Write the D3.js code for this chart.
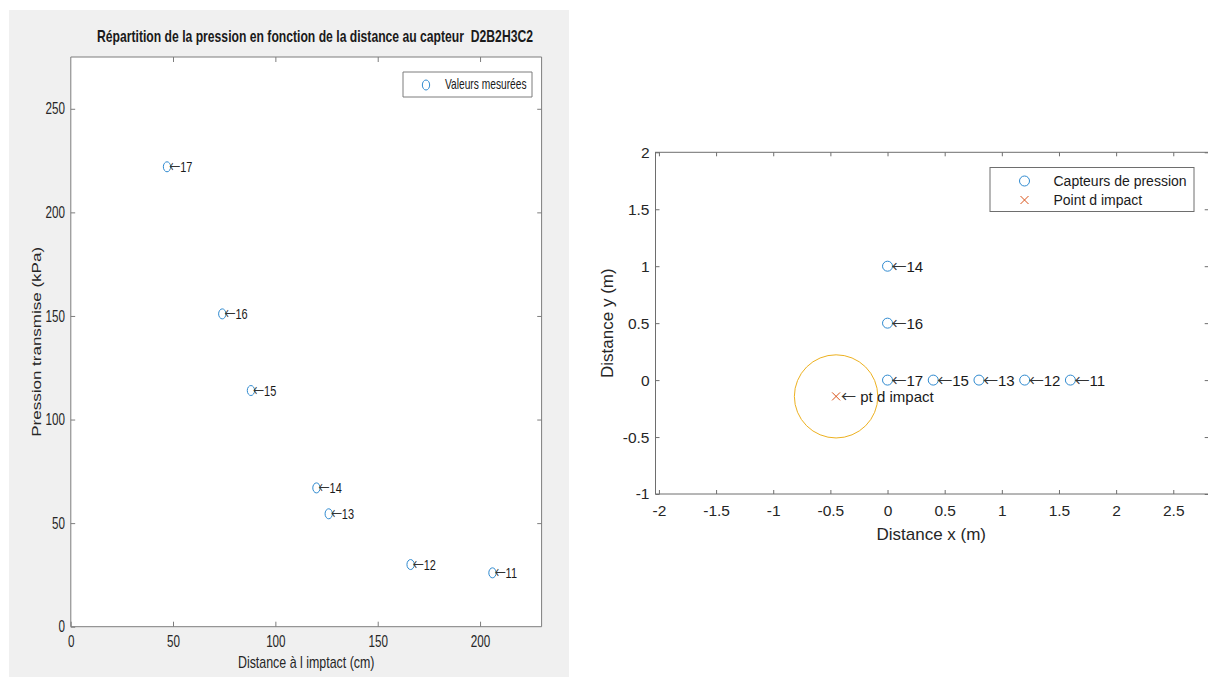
<!DOCTYPE html>
<html>
<head>
<meta charset="utf-8">
<script src="https://cdn.jsdelivr.net/npm/d3@7"></script>
<style>
  html, body { margin: 0; padding: 0; background: #ffffff; }
  svg { display: block; font-family: "Liberation Sans", Arial, Helvetica, sans-serif; }
</style>
</head>
<body>
<script>
// ---------- DATA ----------
// Left chart: pressure vs. distance from impact
const leftLabels = ["17", "16", "15", "14", "13", "12", "11"];
const leftDistance = [47, 74, 88, 120, 126, 166, 206];      // cm
const leftPressure = [222, 151, 114, 67, 54.5, 30, 26];     // kPa
const leftXTicks = [0, 50, 100, 150, 200];
const leftYTicks = [0, 50, 100, 150, 200, 250];

// Right chart: sensor layout
const sensorLabels = ["14", "16", "17", "15", "13", "12", "11"];
const sensorX = [0, 0, 0, 0.4, 0.8, 1.2, 1.6];
const sensorY = [1, 0.5, 0, 0, 0, 0, 0];
const impactX = [-0.45];
const impactY = [-0.143];
const impactRadius = [0.365];
const rightXTicks = [-2, -1.5, -1, -0.5, 0, 0.5, 1, 1.5, 2, 2.5];
const rightYTicks = [-1, -0.5, 0, 0.5, 1, 1.5, 2];

// ---------- SETUP ----------
const W = 1208, H = 677;
const svg = d3.select("body").append("svg").attr("width", W).attr("height", H);
const BLUE = "#2f8ad0", ORANGE = "#D95319", YELLOW = "#EDB120";
const AX = "#7d7d7d", TXT = "#262626";
const FONT = '"Liberation Sans", Arial, sans-serif';

function arrowLabel(sel, fs, textFn, spaced) {
  sel.append("tspan").style("font-family", '"Noto Sans CJK JP", "Noto Sans CJK SC", "DejaVu Sans", sans-serif')
    .attr("font-size", fs).attr("fill", "#333333").text("\u2190");
  sel.append("tspan").style("white-space", "pre").text(d => (spaced ? " " : "") + textFn(d));
}

// ================= LEFT CHART (horizontally squeezed figure) =================
const SX = 0.73;
svg.append("rect").attr("x", 9).attr("y", 10).attr("width", 560).attr("height", 667).attr("fill", "#f0f0f0");

const L = svg.append("g").attr("transform", `scale(${SX},1)`);
const lx = d3.scaleLinear().domain([0, 230]).range([70.8 / SX, 541.6 / SX]);
const ly = d3.scaleLinear().domain([0, 275]).range([626.7, 57]);
const [lx0, lx1] = lx.range(), [ly0, ly1] = ly.range();

L.append("rect").attr("x", lx0).attr("y", ly1).attr("width", lx1 - lx0).attr("height", ly0 - ly1)
  .attr("fill", "#ffffff");

function styleAxis(g, fs) {
  g.select(".domain").remove();
  g.selectAll("line").attr("stroke", AX).attr("vector-effect", "non-scaling-stroke");
  g.selectAll("text").attr("fill", TXT).style("font-size", fs + "px").style("font-family", FONT);
}

L.append("g").attr("transform", `translate(0,${ly0})`)
  .call(d3.axisBottom(lx).tickValues(leftXTicks).tickSizeInner(-5).tickSizeOuter(0).tickPadding(9).tickFormat(d3.format("d")))
  .call(g => styleAxis(g, 16));
L.append("g").attr("transform", `translate(0,${ly1})`)
  .call(d3.axisTop(lx).tickValues(leftXTicks.slice(1)).tickSizeInner(-5).tickSizeOuter(0).tickFormat(""))
  .call(g => styleAxis(g, 16));
L.append("g").attr("transform", `translate(${lx0},0)`)
  .call(d3.axisLeft(ly).tickValues(leftYTicks).tickSizeInner(-6).tickSizeOuter(0).tickPadding(8).tickFormat(d3.format("d")))
  .call(g => styleAxis(g, 16));
L.append("g").attr("transform", `translate(${lx1},0)`)
  .call(d3.axisRight(ly).tickValues(leftYTicks.slice(1)).tickSizeInner(-6).tickSizeOuter(0).tickFormat(""))
  .call(g => styleAxis(g, 16));

L.append("rect").attr("x", lx0).attr("y", ly1).attr("width", lx1 - lx0).attr("height", ly0 - ly1)
  .attr("fill", "none").attr("stroke", AX).attr("vector-effect", "non-scaling-stroke");

// title
L.append("text").attr("x", 315 / SX).attr("y", 42).attr("text-anchor", "middle")
  .attr("font-weight", "bold").attr("font-size", 16).attr("fill", "#1a1a1a")
  .attr("textLength", 436 / SX).attr("lengthAdjust", "spacingAndGlyphs")
  .style("white-space", "pre")
  .text("Répartition de la pression en fonction de la distance au capteur  D2B2H3C2");

// axis labels
L.append("text").attr("x", (lx0 + lx1) / 2).attr("y", 668).attr("text-anchor", "middle")
  .attr("font-size", 17).attr("fill", TXT).text("Distance à l imptact (cm)");
L.append("text").attr("transform", `translate(${37 / SX},${(ly0 + ly1) / 2}) rotate(-90)`)
  .attr("text-anchor", "middle").attr("dy", "0.35em")
  .attr("font-size", 17).attr("fill", TXT).text("Pression transmise (kPa)");

// points
const leftPts = leftLabels.map((lab, i) => ({ lab, x: leftDistance[i], y: leftPressure[i] }));
L.selectAll("circle.pt").data(leftPts).join("circle").attr("class", "pt")
  .attr("cx", d => lx(d.x)).attr("cy", d => ly(d.y)).attr("r", 5)
  .attr("fill", "none").attr("stroke", BLUE).attr("vector-effect", "non-scaling-stroke");
L.selectAll("text.pl").data(leftPts).join("text").attr("class", "pl")
  .attr("x", d => lx(d.x) + 3).attr("y", d => ly(d.y) + 5.5)
  .attr("font-size", 15).attr("fill", "#1a1a1a")
  .call(s => arrowLabel(s, 15, d => d.lab, false));

// legend
const lgL = { x0: 403 / SX, x1: 532 / SX, y0: 72, y1: 97 };
L.append("rect").attr("x", lgL.x0).attr("y", lgL.y0).attr("width", lgL.x1 - lgL.x0).attr("height", lgL.y1 - lgL.y0)
  .attr("fill", "#ffffff").attr("stroke", AX).attr("vector-effect", "non-scaling-stroke");
L.append("circle").attr("cx", 426 / SX).attr("cy", 85).attr("r", 5)
  .attr("fill", "none").attr("stroke", BLUE).attr("vector-effect", "non-scaling-stroke");
L.append("text").attr("x", 445 / SX).attr("y", 89.5).attr("font-size", 14).attr("fill", "#1a1a1a")
  .text("Valeurs mesurées");

// ================= RIGHT CHART =================
const R = svg.append("g");
const rx = d3.scaleLinear().domain([-2.03, 2.81]).range([655.5, 655.5 + 4.84 * 114.3]);
const ry = d3.scaleLinear().domain([-1, 2]).range([494, 152.3]);
const [rx0, rx1] = rx.range(), [ry0, ry1] = ry.range();
const AX2 = "#6e6e6e";

function styleAxis2(g) {
  g.select(".domain").remove();
  g.selectAll("line").attr("stroke", AX2);
  g.selectAll("text").attr("fill", TXT).style("font-size", "15.5px").style("font-family", FONT);
}
const fmt = d => String(d);

R.append("g").attr("transform", `translate(0,${ry0})`)
  .call(d3.axisBottom(rx).tickValues(rightXTicks).tickSizeInner(-4).tickSizeOuter(0).tickPadding(11).tickFormat(fmt))
  .call(styleAxis2);
R.append("g").attr("transform", `translate(0,${ry1})`)
  .call(d3.axisTop(rx).tickValues(rightXTicks).tickSizeInner(-4).tickSizeOuter(0).tickFormat(""))
  .call(styleAxis2);
R.append("g").attr("transform", `translate(${rx0},0)`)
  .call(d3.axisLeft(ry).tickValues(rightYTicks).tickSizeInner(-4).tickSizeOuter(0).tickPadding(6).tickFormat(fmt))
  .call(styleAxis2);
R.append("g").attr("transform", `translate(${rx1},0)`)
  .call(d3.axisRight(ry).tickValues(rightYTicks).tickSizeInner(-4).tickSizeOuter(0).tickFormat(""))
  .call(styleAxis2);
R.append("rect").attr("x", rx0).attr("y", ry1).attr("width", rx1 - rx0).attr("height", ry0 - ry1)
  .attr("fill", "none").attr("stroke", AX2);

R.append("text").attr("x", (rx0 + 1207) / 2).attr("y", 540).attr("text-anchor", "middle")
  .attr("font-size", 17).attr("fill", TXT).text("Distance x (m)");
R.append("text").attr("transform", `translate(607,${(ry0 + ry1) / 2}) rotate(-90)`)
  .attr("text-anchor", "middle").attr("dy", "0.35em")
  .attr("font-size", 17).attr("fill", TXT).text("Distance y (m)");

// impact zone circle
R.append("ellipse").attr("cx", rx(impactX[0])).attr("cy", ry(impactY[0]))
  .attr("rx", rx(impactX[0] + impactRadius[0]) - rx(impactX[0]))
  .attr("ry", ry(impactY[0]) - ry(impactY[0] + impactRadius[0]))
  .attr("fill", "none").attr("stroke", YELLOW).attr("stroke-width", 1);

// sensors
const sensors = sensorLabels.map((lab, i) => ({ lab, x: sensorX[i], y: sensorY[i] }));
R.selectAll("circle.s").data(sensors).join("circle").attr("class", "s")
  .attr("cx", d => rx(d.x)).attr("cy", d => ry(d.y)).attr("r", 5)
  .attr("fill", "none").attr("stroke", BLUE);
R.selectAll("text.sl").data(sensors).join("text").attr("class", "sl")
  .attr("x", d => rx(d.x) + 4).attr("y", d => ry(d.y) + 5.5)
  .attr("font-size", 15).attr("fill", "#1a1a1a")
  .call(s => arrowLabel(s, 15, d => d.lab, false));

// impact point
function cross(g, cx, cy, s, color) {
  g.append("path").attr("d", `M${cx - s},${cy - s}L${cx + s},${cy + s}M${cx - s},${cy + s}L${cx + s},${cy - s}`)
    .attr("stroke", color).attr("fill", "none");
}
cross(R, rx(impactX[0]), ry(impactY[0]), 4, ORANGE);
R.append("text").datum({ lab: "pt d impact" })
  .attr("x", rx(impactX[0]) + 5).attr("y", ry(impactY[0]) + 5.5)
  .attr("font-size", 15).attr("fill", "#1a1a1a")
  .call(s => arrowLabel(s, 15, d => d.lab, true));

// legend
R.append("rect").attr("x", 990).attr("y", 167.5).attr("width", 204).attr("height", 44)
  .attr("fill", "#ffffff").attr("stroke", AX2);
R.append("circle").attr("cx", 1024.5).attr("cy", 181).attr("r", 5).attr("fill", "none").attr("stroke", BLUE);
cross(R, 1024.5, 200, 4, ORANGE);
R.append("text").attr("x", 1053.5).attr("y", 186).attr("font-size", 14).attr("fill", "#1a1a1a").text("Capteurs de pression");
R.append("text").attr("x", 1053.5).attr("y", 205).attr("font-size", 14).attr("fill", "#1a1a1a").text("Point d impact");
</script>
</body>
</html>
